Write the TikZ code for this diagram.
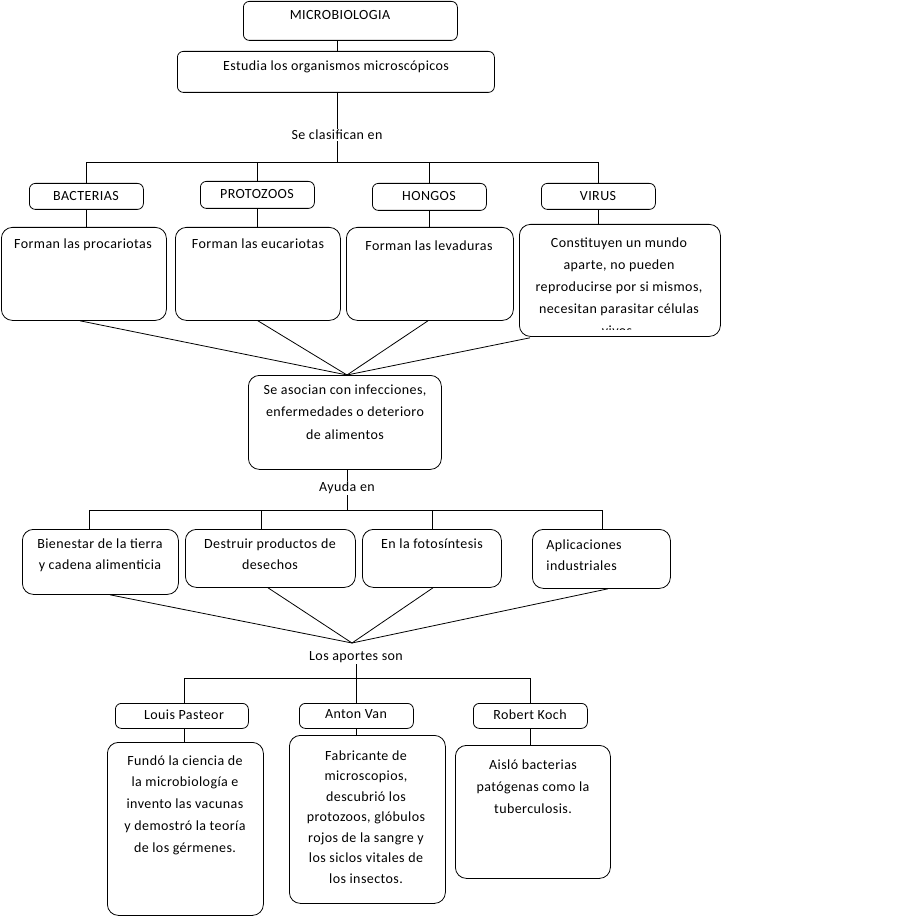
\documentclass[tikz,border=0pt]{standalone}
\usepackage{fontspec}
\setmainfont[LetterSpace=3]{Carlito}
\usetikzlibrary{calc}
\newcommand\fsz[1]{\fontsize{14}{#1}\selectfont}
\begin{document}
\begin{tikzpicture}[x=1pt,y=-1pt,line width=0.8pt,
  font=\fsz{22},
  box/.style={draw,rounded corners=11pt,inner sep=0pt,anchor=north west},
  sbox/.style={draw,rounded corners=6pt,inner sep=0pt,anchor=north west},
  txt/.style={inner sep=0pt,align=center,anchor=north},
  lbl/.style={inner sep=1pt,align=center}]
\useasboundingbox (0,0) rectangle (903,917);
% top
\node[sbox,minimum width=214,minimum height=39] (micro) at (243,1) {};
\node[txt] (tmicro) at (340,10) {MICROBIOLOGIA};
\node[sbox,minimum width=317,minimum height=41] (est) at (177,51) {};
\node[txt] (test) at (336,60) {Estudia los organismos microscópicos};
\draw (est.north -| 337,0) -- (micro.south -| 337,0);
\node[lbl] (clas) at (337,135) {Se clasifican en};
\draw (337,92) -- (clas.north);
\coordinate (bus1) at (337,162);
\draw (clas.south) -- (bus1);
% category boxes
\node[sbox,minimum width=114,minimum height=26] (bact) at (29,183) {};
\node[sbox,minimum width=114,minimum height=27] (prot) at (200,181) {};
\node[sbox,minimum width=114,minimum height=27] (hong) at (372,183) {};
\node[sbox,minimum width=114,minimum height=26] (vir) at (541,183) {};
\node[txt] at (86,191) {BACTERIAS};
\node[txt] at (257,189) {PROTOZOOS};
\node[txt] at (429,191) {HONGOS};
\node[txt] at (598,191) {VIRUS};
\draw (bact.north) |- (vir.north |- bus1) -- (vir.north);
\draw (prot.north) -- (prot.north |- bus1);
\draw (hong.north) -- (hong.north |- bus1);
% detail boxes
\node[box,minimum width=165,minimum height=93] (d1) at (1,227) {};
\node[box,minimum width=165,minimum height=93] (d2) at (175,227) {};
\node[box,minimum width=167,minimum height=93] (d3) at (346,227) {};
\node[box,minimum width=201,minimum height=112] (d4) at (519,224) {};
\node[txt] at (83,238) {Forman las procariotas};
\node[txt] at (258,238) {Forman las eucariotas};
\node[txt] at (429,240) {Forman las levaduras};
\begin{scope}
\clip (521,228) rectangle (718,329);
\node[txt,font=\fsz{22}] at (619,237) {Constituyen un mundo\\aparte, no pueden\\reproducirse por si mismos,\\necesitan parasitar células\\vivos.};
\end{scope}
\draw (bact.south) -- (d1.north -| bact.south);
\draw (prot.south) -- (d2.north -| prot.south);
\draw (hong.south) -- (d3.north -| hong.south);
\draw (vir.south) -- (d4.north -| vir.south);
% central
\node[box,minimum width=193,minimum height=94] (cen) at (248,375) {};
\node[txt,font=\fsz{22.5}] at (345,384) {Se asocian con infecciones,\\enfermedades o deterioro\\de alimentos};
\coordinate (conv1) at (347,375);
\draw (d1.south -| 80,0) -- (conv1);
\draw (d2.south) -- (conv1);
\draw (d3.south -| 428,0) -- (conv1);
\draw ($(d4.south west)+(11,1)$) -- (conv1);
\node[lbl] (ayuda) at (347,488) {Ayuda en};
\draw (cen.south -| 347,0) -- (ayuda.north);
\coordinate (bus2) at (347,510);
\draw (ayuda.south) -- (bus2);
% help boxes
\node[box,minimum width=156,minimum height=65] (e1) at (22,529) {};
\node[box,minimum width=170,minimum height=58] (e2) at (185,529) {};
\node[box,minimum width=139,minimum height=58] (e3) at (362,529) {};
\node[box,minimum width=138,minimum height=59] (e4) at (532,529) {};
\node[txt,font=\fsz{21}] at (100,538) {Bienestar de la tierra\\y cadena alimenticia};
\node[txt,font=\fsz{21}] at (270,538) {Destruir productos de\\desechos};
\node[txt] at (432,538) {En la fotosíntesis};
\node[txt,align=left,anchor=north west,font=\fsz{21}] at (546,539) {Aplicaciones\\industriales};
\coordinate (b2l) at (89,510);
\coordinate (b2r) at (602,510);
\draw (e1.north -| b2l) -- (b2l) -- (b2r) -- (e4.north -| b2r);
\draw (e2.north -| 261,0) -- (261,510);
\draw (e3.north -| 432,0) -- (432,510);
% aportes
\node[lbl] (aport) at (356,657) {Los aportes son};
\coordinate (conv2) at (352,643);
\draw (e1.south -| 110,0) -- (conv2);
\draw (e2.south -| 268,0) -- (conv2);
\draw (e3.south -| 433,0) -- (conv2);
\draw (e4.south -| 608,0) -- (conv2);
\coordinate (bus3) at (356,678);
\draw (aport.south) -- (bus3);
\node[sbox,minimum width=133,minimum height=25] (f1) at (115,703) {};
\node[sbox,minimum width=114,minimum height=25] (f2) at (299,703) {};
\node[sbox,minimum width=114,minimum height=25] (f3) at (473,703) {};
\node[txt] at (184,709) {Louis Pasteor};
\node[txt] at (356,709) {Anton Van};
\node[txt] at (530,709) {Robert Koch};
\coordinate (b3l) at (184,678);
\coordinate (b3r) at (530,678);
\draw (f1.north -| b3l) -- (b3l) -- (b3r) -- (f3.north -| b3r);
\draw (f2.north -| bus3) -- (bus3);
\node[box,minimum width=156,minimum height=173] (g1) at (107,742) {};
\node[box,minimum width=156,minimum height=168] (g2) at (289,735) {};
\node[box,minimum width=155,minimum height=133] (g3) at (455,745) {};
\draw (f1.south -| b3l) -- (g1.north -| b3l);
\draw (f2.south -| bus3) -- (g2.north -| bus3);
\draw (f3.south -| b3r) -- (g3.north -| b3r);
\node[txt,font=\fsz{21.8}] at (185,755) {Fundó la ciencia de\\la microbiología e\\invento las vacunas\\y demostró la teoría\\de los gérmenes.};
\node[txt,font=\fsz{20.5}] at (366,750) {Fabricante de\\microscopios,\\descubrió los\\protozoos, glóbulos\\rojos de la sangre y\\los siclos vitales de\\los insectos.};
\node[txt,font=\fsz{22}] at (533,759) {Aisló bacterias\\patógenas como la\\tuberculosis.};
\end{tikzpicture}
\end{document}
